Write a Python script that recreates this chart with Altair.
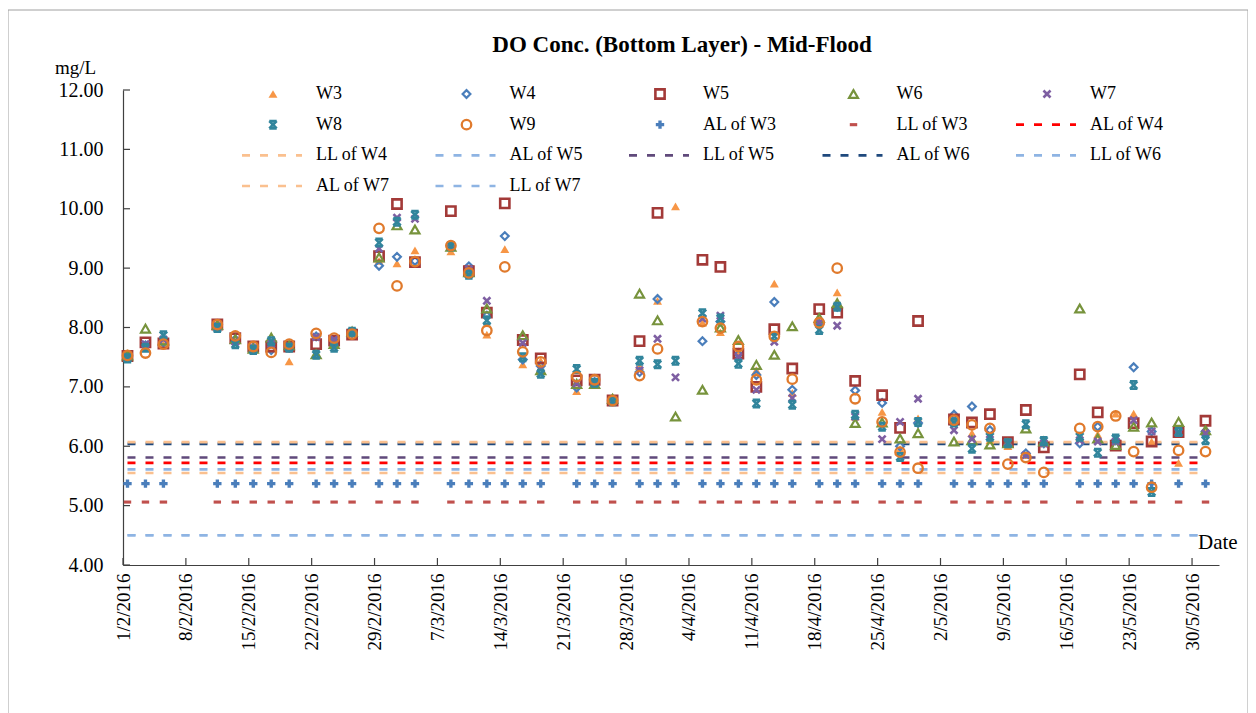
import altair as alt
import pandas as pd

# ---------------- data ----------------
dates = ["2016-02-01", "2016-02-03", "2016-02-05", "2016-02-11", "2016-02-13", "2016-02-15",
         "2016-02-17", "2016-02-19", "2016-02-22", "2016-02-24", "2016-02-26", "2016-02-29",
         "2016-03-02", "2016-03-04", "2016-03-08", "2016-03-10", "2016-03-12", "2016-03-14",
         "2016-03-16", "2016-03-18", "2016-03-22", "2016-03-24", "2016-03-26", "2016-03-29",
         "2016-03-31", "2016-04-02", "2016-04-05", "2016-04-07", "2016-04-09", "2016-04-11",
         "2016-04-13", "2016-04-15", "2016-04-18", "2016-04-20", "2016-04-22", "2016-04-25",
         "2016-04-27", "2016-04-29", "2016-05-03", "2016-05-05", "2016-05-07", "2016-05-09",
         "2016-05-11", "2016-05-13", "2016-05-17", "2016-05-19", "2016-05-21", "2016-05-23",
         "2016-05-25", "2016-05-28", "2016-05-31"]

W3 = [7.55, 7.68, 7.72, 8.06, 7.78, 7.68, 7.75, 7.43, 7.85, 7.75, 7.92, 9.12, 9.08, 9.30, 9.28, 8.92, 7.88,
      9.32, 7.38, 7.44, 6.93, 7.10, 6.76, 7.35, 8.45, 10.04, 8.08, 7.92, 7.60, 7.28, 8.74, 6.90, 8.10,
      8.59, 6.50, 6.58, 5.95, 6.47, 6.45, 6.22, 6.10, 6.00, 5.85, 6.05, 6.15, 6.20, 6.55, 6.55, 6.08,
      5.72, 6.30]
W4 = [7.50, 7.70, 7.75, 8.03, 7.80, 7.66, 7.62, 7.66, 7.85, 7.78, 7.90, 9.04, 9.19, 9.12, 9.37, 9.03, 8.20,
      9.54, 7.46, 7.35, 6.99, 7.08, 6.77, 7.25, 8.48, None, 7.77, 8.10, 7.55, 7.20, 8.43, 6.95, 8.06,
      8.35, 6.94, 6.73, 6.00, 6.39, 6.53, 6.67, 6.27, 6.06, 5.88, 6.05, 6.05, 6.33, 6.10, 7.33, 6.25,
      6.25, 6.25]
W5 = [7.52, 7.75, 7.73, 8.05, 7.82, 7.68, 7.68, 7.68, 7.72, 7.78, 7.88, 9.20, 10.08, 9.10, 9.96, 8.95, 8.25,
      10.09, 7.79, 7.48, 7.11, 7.12, 6.77, 7.77, 9.93, None, 9.14, 9.02, 7.56, 7.00, 7.97, 7.31, 8.31,
      8.25, 7.10, 6.86, 6.31, 8.11, 6.45, 6.40, 6.54, 6.07, 6.61, 5.98, 7.21, 6.57, 6.01, 6.39, 6.08,
      6.24, 6.43]
W6 = [7.53, 7.98, 7.78, 8.04, 7.80, 7.64, 7.83, 7.70, 7.55, 7.72, 7.93, 9.18, 9.72, 9.65, 9.36, 8.93, 8.32,
      None, 7.87, 7.28, 7.05, 7.05, 6.80, 8.57, 8.12, 6.50, 6.95, 8.00, 7.79, 7.37, 7.54, 8.02, 8.16,
      8.41, 6.39, 6.40, 6.13, 6.22, 6.08, 6.10, 6.03, 6.05, 6.30, 6.08, 8.32, 6.13, 6.02, 6.33, 6.40,
      6.41, 6.27]
W7 = [7.50, 7.72, 7.80, 8.02, 7.76, 7.65, 7.72, 7.68, 7.84, 7.80, 7.91, 9.33, 9.85, 9.83, 9.38, 8.98, 8.45,
      None, 7.74, 7.31, 7.06, 7.08, 6.76, 7.28, 7.81, 7.16, 8.15, 8.20, 7.51, 6.95, 7.76, 6.81, 8.08,
      8.03, 6.50, 6.12, 6.41, 6.80, 6.27, 6.12, 6.20, 6.07, 5.85, 6.05, 6.10, 6.08, 6.08, 6.44, 6.25,
      6.23, 6.22]
W8 = [7.48, 7.66, 7.87, 7.99, 7.72, 7.62, 7.77, 7.66, 7.54, 7.66, 7.93, 9.43, 9.78, 9.90, 9.37, 8.89, 8.12,
      None, 7.50, 7.22, 7.30, 7.07, 6.76, 7.44, 7.38, 7.44, 8.24, 8.15, 7.39, 6.72, 7.85, 6.70, 7.96,
      8.35, 6.53, 6.33, 5.82, 6.41, 6.40, 5.96, 6.16, 6.05, 6.37, 6.09, 6.16, 5.89, 6.13, 7.03, 5.23,
      6.24, 6.10]
W9 = [7.53, 7.57, 7.72, 8.05, 7.86, 7.68, 7.58, 7.72, 7.90, 7.82, 7.89, 9.67, 8.70, 9.11, 9.38, 8.92, 7.95,
      9.02, 7.59, 7.42, 7.17, 7.12, 6.77, 7.19, 7.64, None, 8.10, 7.99, 7.68, 7.12, 7.85, 7.13, 8.08,
      9.00, 6.80, 6.41, 5.90, 5.63, 6.44, 6.36, 6.30, 5.70, 5.81, 5.56, 6.30, 6.33, 6.51, 5.91, 5.31,
      5.93, 5.91]

AL_W3 = 5.37
LL_W3 = 5.06

limit_names = ["AL of W4", "LL of W4", "AL of W5", "LL of W5", "AL of W6", "LL of W6", "AL of W7", "LL of W7"]
limit_values = [5.72, 5.55, 5.61, 5.81, 6.04, 4.50, 6.07, 4.50]

tick_dates = ["2016-02-01", "2016-02-08", "2016-02-15", "2016-02-22", "2016-02-29", "2016-03-07",
              "2016-03-14", "2016-03-21", "2016-03-28", "2016-04-04", "2016-04-11", "2016-04-18",
              "2016-04-25", "2016-05-02", "2016-05-09", "2016-05-16", "2016-05-23", "2016-05-30"]
y_ticks = [4, 5, 6, 7, 8, 9, 10, 11, 12]

legend_labels = ["W3", "W4", "W5", "W6", "W7", "W8", "W9", "AL of W3", "LL of W3", "AL of W4",
                 "LL of W4", "AL of W5", "LL of W5", "AL of W6", "LL of W6", "AL of W7", "LL of W7"]

# ---------------- styles ----------------
FONT = "Liberation Serif"
W, H = 1096, 475
X_PATH = "M-1,-1L1,1M-1,1L1,-1"
STAR_PATH = "M-1,-1L1,-1M-1,1L1,1M-1,-1L1,1M1,-1L-1,1"
DASH_PATH = "M-1,-0.42L1,-0.42L1,0.42L-1,0.42Z"

marker_style = {
    "W3": dict(shape="triangle-up", filled=True, color="#F79646", size=80, strokeWidth=0),
    "W4": dict(shape="diamond", filled=False, color="#4A7EBB", size=60, strokeWidth=2.2),
    "W5": dict(shape="square", filled=False, color="#A33A38", size=85, strokeWidth=2.6),
    "W6": dict(shape="triangle-up", filled=False, color="#77933C", size=80, strokeWidth=2.2),
    "W7": dict(shape=X_PATH, filled=False, color="#7E5FA2", size=50, strokeWidth=2.6),
    "W8": dict(shape=STAR_PATH, filled=False, color="#31859C", size=55, strokeWidth=2.6),
    "W9": dict(shape="circle", filled=False, color="#E07A2C", size=90, strokeWidth=2.3),
    "AL of W3": dict(shape="cross", filled=True, color="#4A7EBB", size=70, strokeWidth=0),
    "LL of W3": dict(shape=DASH_PATH, filled=True, color="#C0504D", size=55, strokeWidth=0),
}
line_colors = {
    "AL of W4": "#FF0000", "LL of W4": "#FAC08F", "AL of W5": "#8EB4E3", "LL of W5": "#604A7B",
    "AL of W6": "#1F497D", "LL of W6": "#8EB4E3", "AL of W7": "#FAC08F", "LL of W7": "#8EB4E3",
}
DASH = [8, 10]
LINE_W = 2.6

# ---------------- tables ----------------
def utc_str(d, hours=0):
    return (pd.Timestamp(d) + pd.Timedelta(hours=hours)).strftime("%Y-%m-%dT%H:%M:%SZ")

df = pd.DataFrame({"date": [utc_str(d, 12) for d in dates],
                   "W3": W3, "W4": W4, "W5": W5, "W6": W6, "W7": W7, "W8": W8, "W9": W9})
df["AL of W3"] = AL_W3
df["LL of W3"] = LL_W3

lim = pd.DataFrame({"name": limit_names, "value": limit_values,
                    "x": utc_str(dates[0], 12), "x2": utc_str(dates[-1], 12)})
xt = pd.DataFrame({"t": [utc_str(d) for d in tick_dates]})
yt = pd.DataFrame({"v": y_ticks})
leg = pd.DataFrame({"label": legend_labels,
                    "col": [i % 5 for i in range(len(legend_labels))],
                    "row": [i // 5 for i in range(len(legend_labels))]})

# ---------------- scales / axes ----------------
xscale = alt.Scale(type="utc",
                   domain=[alt.DateTime(year=2016, month=2, date=1, utc=True),
                           alt.DateTime(year=2016, month=6, date=2, utc=True)])
xaxis = alt.Axis(values=[alt.DateTime(year=int(d[:4]), month=int(d[5:7]), date=int(d[8:10]), utc=True)
                         for d in tick_dates],
                 format="%-d/%-m/%Y", labelAngle=270, labelFont=FONT, labelFontSize=19,
                 labelColor="#000000", labelPadding=8, ticks=False, grid=False,
                 domainColor="#404040", domainWidth=1.2, title=None, labelOverlap=False)
yscale = alt.Scale(domain=[4, 12])
yaxis = alt.Axis(values=y_ticks, format=".2f", labelFont=FONT, labelFontSize=20,
                 labelColor="#000000", labelPadding=20, ticks=False, grid=False,
                 domainColor="#404040", domainWidth=1.2, title=None)


def X(field):
    return alt.X(field, type="temporal", scale=xscale, axis=xaxis)


def Y(field):
    return alt.Y(field, type="quantitative", scale=yscale, axis=yaxis)


layers = []

# limit lines
for name in limit_names:
    layers.append(
        alt.Chart(lim).transform_filter(alt.datum.name == name)
        .mark_rule(color=line_colors[name], strokeDash=DASH, strokeWidth=LINE_W)
        .encode(x=X("x"), x2="x2", y=Y("value"))
    )

# AL / LL of W3 markers
for name in ["AL of W3", "LL of W3"]:
    st = marker_style[name]
    layers.append(
        alt.Chart(df).mark_point(shape=st["shape"], filled=st["filled"], color=st["color"],
                                 size=st["size"], strokeWidth=st["strokeWidth"], opacity=1)
        .encode(x=X("date"), y=Y(name))
    )

# station series
for s in ["W3", "W4", "W5", "W6", "W7", "W8", "W9"]:
    st = marker_style[s]
    layers.append(
        alt.Chart(df).mark_point(shape=st["shape"], filled=st["filled"], color=st["color"],
                                 size=st["size"], strokeWidth=st["strokeWidth"], opacity=1)
        .encode(x=X("date"), y=Y(s))
    )

# inner tick marks
layers.append(alt.Chart(yt).mark_rule(color="#404040", strokeWidth=1.2)
              .encode(y=Y("v"), x=alt.value(0), x2=alt.value(7)))
layers.append(alt.Chart(xt).mark_rule(color="#404040", strokeWidth=1.2)
              .encode(x=X("t"), y=alt.value(H), y2=alt.value(H - 7)))

one = alt.Data(values=[{}])
layers.append(alt.Chart(one).mark_text(text="DO Conc. (Bottom Layer) - Mid-Flood", font=FONT,
                                       fontSize=23, fontWeight="bold", align="center",
                                       baseline="middle", color="#000000")
              .encode(x=alt.value(559), y=alt.value(-45)))
layers.append(alt.Chart(one).mark_text(text="mg/L", font=FONT, fontSize=19, align="left",
                                       baseline="middle", color="#000000")
              .encode(x=alt.value(-68), y=alt.value(-22)))
layers.append(alt.Chart(one).mark_text(text="Date", font=FONT, fontSize=21, align="left",
                                       baseline="middle", color="#000000")
              .encode(x=alt.value(1075), y=alt.value(453)))
layers.append(alt.Chart(one).mark_rect(fill="#ffffff", fillOpacity=0, stroke="#a0a0a0", strokeWidth=1)
              .encode(x=alt.value(-115), x2=alt.value(1125), y=alt.value(-80), y2=alt.value(640)))

data_layer = alt.layer(*layers)

# ---------------- legend ----------------
LX = alt.X("col:Q", scale=alt.Scale(domain=[0, 4], range=[193, 193 + 4 * 193.5]), axis=None)
LY = alt.Y("row:Q", scale=alt.Scale(domain=[0, 3], range=[4, 96]), axis=None)

leg_layers = [alt.Chart(leg).mark_text(align="left", baseline="middle", font=FONT, fontSize=18,
                                       color="#000000")
              .encode(x=LX, y=LY, text="label:N")]
for lab in legend_labels:
    base = alt.Chart(leg).transform_filter(alt.datum.label == lab)
    if lab in marker_style:
        st = marker_style[lab]
        leg_layers.append(base.mark_point(shape=st["shape"], filled=st["filled"], color=st["color"],
                                          size=st["size"], strokeWidth=st["strokeWidth"], opacity=1,
                                          xOffset=-43)
                          .encode(x=LX, y=LY))
    else:
        leg_layers.append(base.mark_rule(color=line_colors[lab], strokeDash=DASH, strokeWidth=LINE_W,
                                         xOffset=-74, x2Offset=-14)
                          .encode(x=LX, x2="col:Q", y=LY))
legend_layer = alt.layer(*leg_layers)

chart = (
    alt.layer(data_layer, legend_layer)
    .resolve_scale(x="independent", y="independent")
    .properties(width=W, height=H, autosize="none",
                padding={"left": 115, "top": 82, "right": 29, "bottom": 150},
                background="#ffffff")
    .configure_view(stroke=None)
)

chart.save("out.html", embed_options={"renderer": "svg", "actions": False})
